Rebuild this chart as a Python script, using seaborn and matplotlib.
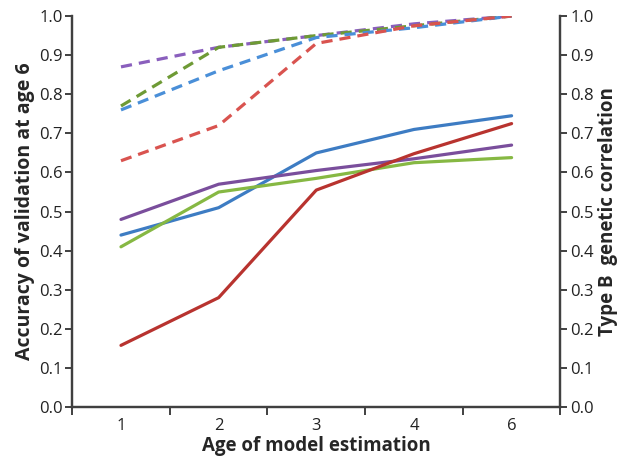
import numpy as np
import pandas as pd
import seaborn as sns
import matplotlib.pyplot as plt

ages = ["1", "2", "3", "4", "6"]

# accuracy of validation at age 6 (solid lines, left axis)
acc_blue = [0.44, 0.51, 0.65, 0.71, 0.745]
acc_purple = [0.48, 0.57, 0.605, 0.635, 0.67]
acc_green = [0.41, 0.55, 0.585, 0.625, 0.638]
acc_red = [0.158, 0.28, 0.555, 0.648, 0.725]

# type B genetic correlation (dashed lines, right axis)
rg_purple = [0.87, 0.92, 0.95, 0.98, 1.0]
rg_green = [0.77, 0.92, 0.95, 0.975, 1.0]
rg_blue = [0.76, 0.86, 0.945, 0.97, 1.0]
rg_red = [0.63, 0.72, 0.93, 0.975, 1.0]

sns.set_theme(style="white")
plt.rcParams['font.family'] = ['Open Sans', 'DejaVu Sans']

fig = plt.figure(figsize=(6.22, 4.58), dpi=100)
ax = fig.add_axes([0.116, 0.111, 0.785, 0.854])
ax2 = ax.twinx()

pos = np.arange(len(ages))

solid = [(acc_blue, "#3d7cc3"), (acc_purple, "#7a4e9c"),
         (acc_green, "#86b843"), (acc_red, "#b8332f")]
dashed = [(rg_purple, "#8a5fbd"), (rg_green, "#6e9a35"),
          (rg_blue, "#4a8fd8"), (rg_red, "#d9534f")]

for vals, col in solid:
    sns.lineplot(x=pos, y=vals, ax=ax, color=col, linewidth=2.3)
for vals, col in dashed:
    sns.lineplot(x=pos, y=vals, ax=ax2, color=col, linewidth=2.3,
                 dashes=False, linestyle=(0, (3.5, 2.2)))

for a in (ax, ax2):
    a.set_ylim(0, 1.0)
    a.set_xlim(-0.5, len(ages) - 0.5)
    a.set_yticks(np.arange(0, 1.01, 0.1))
    a.set_yticklabels([f"{v:.1f}" for v in np.arange(0, 1.01, 0.1)], fontsize=12, color="#222222")
    a.spines['top'].set_visible(False)
    for s in ('left', 'right', 'bottom'):
        a.spines[s].set_color("#404040")
        a.spines[s].set_linewidth(1.6)
    a.grid(False)

ax.tick_params(axis='y', direction='out', length=5, width=1.4, color="#404040", left=True, pad=2)
ax2.tick_params(axis='y', direction='out', length=5, width=1.4, color="#404040", right=True, pad=2)

# category boundaries as ticks, labels at centers
ax.set_xticks(np.arange(-0.5, len(ages), 1.0))
ax.set_xticklabels([])
ax.tick_params(axis='x', which='major', direction='out', length=6, width=1.4, color="#404040", bottom=True)
ax.set_xticks(pos, minor=True)
ax.set_xticklabels(ages, minor=True, fontsize=12, color="#222222")
ax.tick_params(axis='x', which='minor', length=0, pad=8)

ax.set_xlabel("Age of model estimation", fontsize=13.5, fontweight='bold', labelpad=1)
ax.set_ylabel("Accuracy of validation at age 6", fontsize=14, fontweight='bold', labelpad=3)
ax2.set_ylabel("Type B  genetic correlation", fontsize=13.5, fontweight='bold', labelpad=3)

fig.savefig("out.png", dpi=100)
